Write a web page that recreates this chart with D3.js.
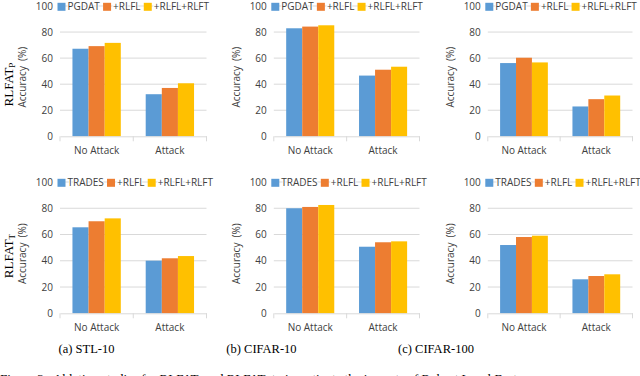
<!DOCTYPE html>
<html><head><meta charset="utf-8">
<script src="https://cdn.jsdelivr.net/npm/d3@7"></script>
<style>body{margin:0;background:#fff}svg{display:block}</style>
</head><body><svg id="c" width="640" height="376"></svg>
<script>
const categories = ["No Attack", "Attack"];
const seriesTop = ["PGDAT", "+RLFL", "+RLFL+RLFT"];
const seriesBottom = ["TRADES", "+RLFL", "+RLFL+RLFT"];
const yTicks = [0, 20, 40, 60, 80, 100];
// values[category][series]
const pgdatSTL10 = [[67.2, 69.2, 71.7], [32.3, 37.1, 40.7]];
const pgdatCIFAR10 = [[82.9, 84.2, 85.2], [46.6, 51.1, 53.4]];
const pgdatCIFAR100 = [[56.2, 60.3, 56.7], [22.9, 28.5, 31.3]];
const tradesSTL10 = [[65.5, 70.1, 72.3], [40.1, 41.9, 43.6]];
const tradesCIFAR10 = [[80.0, 81.0, 82.5], [50.7, 54.1, 54.8]];
const tradesCIFAR100 = [[52.0, 58.1, 59.1], [25.9, 28.4, 29.7]];
const captions = ["(a) STL-10", "(b) CIFAR-10", "(c) CIFAR-100"];
const rowLabels = [["RLFAT", "P"], ["RLFAT", "T"]];
const yTitle = "Accuracy  (%)";
const colors = ["#5B9BD5", "#ED7D31", "#FFC000"];

const svg = d3.select("#c");
const font = "'Open Sans', sans-serif";
const cols = [[60, 206.5], [273.8, 419.5], [487.8, 632.5]];
const rows = [[136.3, 6], [313.3, 182]];
const panels = [
  {r: 0, c: 0, data: pgdatSTL10, series: seriesTop},
  {r: 0, c: 1, data: pgdatCIFAR10, series: seriesTop},
  {r: 0, c: 2, data: pgdatCIFAR100, series: seriesTop},
  {r: 1, c: 0, data: tradesSTL10, series: seriesBottom},
  {r: 1, c: 1, data: tradesCIFAR10, series: seriesBottom},
  {r: 1, c: 2, data: tradesCIFAR100, series: seriesBottom}
];

panels.forEach(p => {
  const [x0, x1] = cols[p.c];
  const [yb, yt] = rows[p.r];
  const g = svg.append("g");
  const y = d3.scaleLinear().domain([0, 100]).range([yb, yt]);
  const x = d3.scaleBand().domain(categories).range([x0, x1]).paddingInner(0.34).paddingOuter(0.17);
  const xs = d3.scaleBand().domain(p.series).range([0, x.bandwidth()]);

  g.selectAll("line.grid").data(yTicks.slice(1)).join("line")
    .attr("x1", x0).attr("x2", x1).attr("y1", d => y(d)).attr("y2", d => y(d))
    .attr("stroke", "#D9D9D9").attr("stroke-width", 1);

  const ya = g.append("g").attr("transform", `translate(${x0},0)`)
    .call(d3.axisLeft(y).tickValues(yTicks).tickSize(0).tickPadding(7));
  ya.select(".domain").remove();
  ya.selectAll("text").attr("font-family", font).attr("font-size", 10).attr("fill", "#404040");

  categories.forEach((cat, ci) => {
    g.selectAll(null).data(p.series).join("rect")
      .attr("x", s => x(cat) + xs(s))
      .attr("width", xs.bandwidth())
      .attr("y", (s, si) => y(p.data[ci][si]))
      .attr("height", (s, si) => y(0) - y(p.data[ci][si]))
      .attr("fill", (s, si) => colors[si]);
  });

  const xa = g.append("g").attr("transform", `translate(0,${yb})`)
    .call(d3.axisBottom(x).tickSize(0).tickPadding(11));
  xa.select(".domain").attr("stroke", "#D9D9D9");
  xa.selectAll("text").attr("font-family", font).attr("font-size", 10).attr("fill", "#404040");
  const bounds = [x0, (x0 + x1) / 2, x1];
  g.selectAll(null).data(bounds).join("line")
    .attr("x1", d => d).attr("x2", d => d).attr("y1", yb).attr("y2", yb + 5)
    .attr("stroke", "#D9D9D9");

  g.append("text").attr("transform", `translate(${x0 - 34},${(yb + yt) / 2 + 6}) rotate(-90)`)
    .attr("text-anchor", "middle").attr("font-family", font).attr("font-size", 10)
    .attr("fill", "#404040").attr("xml:space", "preserve").text(yTitle);

  const ly = yt + 0.8;
  let lx = x0 - 2.5;
  p.series.forEach((s, si) => {
    g.append("rect").attr("x", lx).attr("y", ly - 4).attr("width", 8).attr("height", 8).attr("fill", colors[si]);
    const t = g.append("text").attr("x", lx + 10).attr("y", ly + 3.6)
      .attr("font-family", font).attr("font-size", 10).attr("fill", "#404040")
      .attr("stroke", "#fff").attr("stroke-width", 2).attr("paint-order", "stroke").text(s);
    lx += 10 + t.node().getComputedTextLength() + 3.2;
  });
});

const rowLabelY = [84.5, 256];
rowLabels.forEach((lab, i) => {
  const t = svg.append("text").attr("transform", `translate(12.5,${rowLabelY[i]}) rotate(-90)`)
    .attr("text-anchor", "middle").attr("font-family", "'Liberation Serif', serif")
    .attr("font-size", 13).attr("fill", "#000");
  t.append("tspan").text(lab[0]);
  t.append("tspan").attr("font-size", 9).attr("dy", 2.5).text(lab[1]);
});

const capX = [86.5, 261.5, 436];
svg.selectAll("text.cap").data(captions).join("text").attr("class", "cap")
  .attr("x", (d, i) => capX[i]).attr("y", 353).attr("text-anchor", "middle")
  .attr("font-family", "'Liberation Serif', serif").attr("font-size", 12.5).attr("fill", "#000")
  .text(d => d);

svg.append("text").attr("x", 0).attr("y", 383)
  .attr("font-family", "'Liberation Serif', serif").attr("font-size", 13).attr("fill", "#000")
  .attr("xml:space", "preserve")
  .text("Figure 3:  Ablation studies for RLFAT  and RLFAT  to investigate the impacts of Robust Local Feature");
</script></body></html>
